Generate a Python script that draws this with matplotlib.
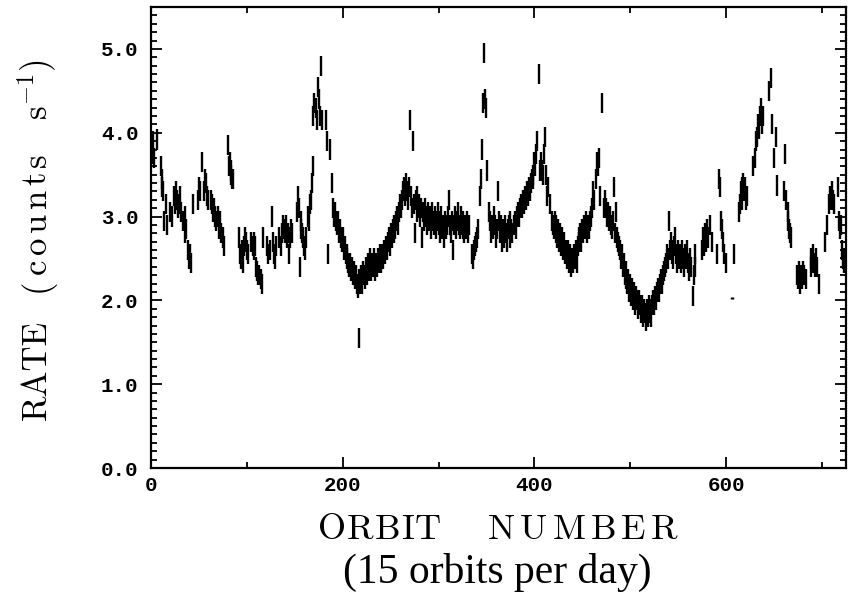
import numpy as np
import matplotlib
matplotlib.use('Agg')
from matplotlib import pyplot as plt
from matplotlib.ticker import MultipleLocator, FormatStrFormatter

# (orbit, rate), one list per stretch of data
seg_a = [(0, 3.85), (1, 3.75), (2, 3.9), (3, 3.7), (6, 3.92), (10, 3.6), (11, 3.45), (12, 3.35),
         (13, 3.3), (14, 2.95), (16, 3.15), (17, 2.9), (20, 3.05), (22, 3.0), (24, 3.25), (25, 3.15),
         (26, 3.3), (27, 3.2), (28, 3.1), (29, 3.15), (30, 3.25), (31, 3.05), (33, 2.95), (35, 3.0),
         (36, 2.8), (37, 2.85), (39, 2.6), (40, 2.5), (41, 2.55), (42, 2.45), (44, 3.15), (49, 3.2),
         (50, 3.35), (51, 3.3), (53, 3.65), (55, 3.3), (56, 3.45), (57, 3.4), (58, 3.25), (59, 3.2)]
seg_b = [(63, 3.2), (64, 3.15), (65, 3.05), (66, 3.1), (67, 3.0), (68, 2.95), (70, 3.0), (71, 2.85),
         (72, 2.95), (73, 2.8), (75, 2.75), (76, 2.65)]
seg_c = [(80, 3.85), (81, 3.6), (82, 3.65), (83, 3.55), (84, 3.5), (85, 3.45), (86, 3.45)]
seg_d = [(92, 2.75), (93, 2.55), (94, 2.5), (95, 2.6), (96, 2.45), (97, 2.65), (98, 2.75), (99, 2.7),
         (100, 2.6), (101, 2.55), (104, 2.7), (106, 2.65), (107, 2.7), (108, 2.6), (109, 2.65),
         (110, 2.4), (111, 2.35), (112, 2.3), (113, 2.3), (115, 2.25), (116, 2.2), (117, 2.75),
         (121, 2.65), (122, 2.55), (124, 2.6), (126, 3.0), (127, 2.7), (128, 2.55), (129, 2.5), (130, 2.65)]
seg_e = [(134, 2.75), (136, 2.65), (137, 2.8), (138, 2.9), (139, 2.85), (140, 2.8), (141, 2.9),
         (142, 2.75), (143, 2.8), (144, 2.55), (145, 2.75), (146, 2.85), (147, 2.8), (152, 3.05),
         (153, 3.25), (154, 3.1), (155, 2.4), (156, 2.95), (157, 2.85), (158, 2.8), (159, 2.75),
         (160, 2.65), (161, 2.6), (162, 2.75), (164, 3.0), (165, 2.95), (166, 3.15), (167, 3.2),
         (168, 3.4), (169, 3.6)]
seg_f = [(169.5, 4.2), (170.5, 4.35), (172, 4.3), (173, 4.15), (174, 4.55), (175, 4.4), (176, 4.2),
         (177, 4.8), (178, 4.15), (183, 4.15), (184, 3.9), (185, 2.55), (187, 3.8), (189, 3.4)]
seg_g = [(190, 3.1), (191, 3.0), (192, 3.05), (193, 2.95), (194, 2.9), (195, 2.95), (196, 2.8),
         (197, 2.85), (198, 2.75), (199, 2.7), (200, 2.75), (201, 2.6), (202, 2.65), (203, 2.55),
         (204, 2.5), (205, 2.55), (206, 2.45), (207, 2.4), (208, 2.45), (209, 2.35), (210, 2.4),
         (211, 2.3), (212, 2.35), (213, 2.25), (214, 2.3), (215, 2.2), (216, 2.15), (216.5, 1.55),
         (217, 2.25), (218, 2.2), (219, 2.3), (220, 2.2), (221, 2.35), (222, 2.3), (223, 2.25),
         (224, 2.4), (225, 2.3), (226, 2.45), (227, 2.35), (228, 2.4), (229, 2.5), (230, 2.35),
         (231, 2.45), (232, 2.4), (233, 2.5), (234, 2.35), (235, 2.45), (236, 2.4), (237, 2.5),
         (238, 2.45), (239, 2.55), (240, 2.45), (241, 2.55), (242, 2.5), (243, 2.6), (244, 2.55),
         (245, 2.65), (246, 2.6), (247, 2.7), (248, 2.75), (249, 2.65), (250, 2.8), (251, 2.75),
         (252, 2.85), (253, 2.8), (254, 2.9), (255, 2.85), (256, 2.95), (257, 3.0), (258, 2.9),
         (259, 3.05), (260, 3.15), (261, 3.1), (262, 3.2), (263, 3.3), (264, 3.35), (265, 3.25),
         (266, 3.4), (267, 3.3), (268, 3.2), (269, 3.35), (270, 4.15), (271, 3.25), (272, 3.1),
         (273, 3.9), (274, 3.15), (275, 2.8), (276, 3.2), (277, 3.05), (278, 3.25), (279, 3.1), (280, 3.15)]
seg_h = [(281, 3.0), (282, 3.1), (283, 2.75), (284, 3.05), (285, 2.95), (286, 3.1), (287, 3.0),
         (288, 2.9), (289, 3.05), (290, 2.95), (291, 3.0), (292, 2.85), (293, 3.05), (294, 2.95),
         (295, 2.9), (296, 3.0), (297, 2.85), (298, 2.95), (299, 3.05), (300, 2.9), (301, 2.8),
         (302, 2.95), (303, 3.0), (304, 2.85), (305, 2.9), (306, 2.75), (307, 2.95), (308, 2.85),
         (309, 2.9), (310, 3.0), (311, 3.2), (312, 2.9), (313, 2.8), (314, 2.95), (315, 2.6),
         (316, 2.9), (317, 3.0), (318, 2.85), (319, 2.95), (320, 3.05), (321, 2.9), (322, 2.85),
         (323, 3.0), (324, 2.9), (325, 2.85), (326, 2.95), (327, 2.8), (328, 2.9), (329, 2.85),
         (330, 2.95), (331, 2.8), (332, 2.9), (335, 2.55), (336, 2.5), (337, 2.6), (338, 2.65),
         (339, 2.7), (340, 2.75), (341, 2.85), (343, 3.25), (344, 3.45), (345, 3.8), (346, 4.35),
         (347, 4.95), (348, 4.4), (349, 4.3), (351, 3.55)]
seg_i = [(353, 3.05), (354, 2.95), (355, 2.8), (356, 2.9), (357, 2.85), (358, 3.0), (359, 2.9),
         (360, 2.75), (361, 2.85), (362, 3.3), (363, 2.95), (364, 2.8), (365, 2.9), (366, 2.7),
         (367, 2.85), (368, 2.75), (369, 2.9), (370, 2.8), (371, 2.7), (372, 2.85), (373, 2.9),
         (374, 2.75), (375, 2.95), (376, 2.85), (377, 2.8), (379, 2.9), (380, 2.95), (381, 2.85),
         (382, 3.0), (383, 3.05), (384, 3.0), (385, 3.1), (386, 3.15), (387, 3.1), (388, 3.2),
         (389, 3.15), (390, 3.25), (391, 3.2), (392, 3.3), (393, 3.25), (394, 3.35), (395, 3.3),
         (396, 3.4), (397, 3.45), (398, 3.5), (399, 3.45), (400, 3.65), (401, 3.6), (402, 3.75),
         (403, 3.9), (405, 4.7), (406, 3.55), (407, 3.65), (408, 3.55), (409, 3.5), (410, 3.75),
         (411, 3.95), (412, 3.5), (413, 3.25), (414, 3.35), (416, 3.15), (418, 2.95)]
seg_j = [(419, 2.9), (420, 2.85), (421, 2.95), (422, 2.8), (423, 2.9), (424, 2.75), (425, 2.85),
         (426, 2.7), (427, 2.8), (428, 2.65), (429, 2.75), (430, 2.6), (431, 2.7), (432, 2.55),
         (433, 2.6), (434, 2.5), (435, 2.6), (436, 2.45), (437, 2.55), (438, 2.4), (439, 2.5),
         (440, 2.45), (441, 2.55), (442, 2.5), (443, 2.6), (444, 2.45), (445, 2.65), (446, 2.7),
         (447, 2.75), (448, 2.8), (449, 2.7), (450, 2.85), (451, 2.8), (452, 2.9), (453, 2.85),
         (454, 2.95), (455, 2.8), (456, 2.9), (457, 2.85), (458, 2.95), (459, 3.0), (460, 3.1),
         (461, 3.3), (462, 3.2), (464, 3.45), (465, 3.65), (466, 3.6), (467, 3.7), (468, 3.25), (470, 4.35)]
seg_k = [(473, 3.1), (474, 3.2), (475, 3.1), (476, 3.0), (477, 3.05), (478, 2.95), (479, 3.0),
         (480, 2.9), (481, 2.85), (482, 2.95), (483, 3.35), (484, 2.8), (485, 3.05), (486, 2.75),
         (487, 2.7), (488, 2.65), (489, 2.6), (490, 2.5), (491, 2.55), (492, 2.4), (493, 2.45),
         (494, 2.3), (495, 2.35), (496, 2.25), (497, 2.2), (498, 2.25), (499, 2.1), (500, 2.2),
         (501, 2.05), (502, 2.15), (503, 2.0), (504, 2.1), (505, 1.95), (506, 2.05), (507, 2.0),
         (508, 1.9), (509, 2.0), (510, 1.95), (511, 1.85), (512, 1.95), (513, 1.8), (514, 1.9),
         (515, 1.85), (516, 1.75), (517, 1.9), (518, 1.8), (519, 1.95), (520, 1.85), (521, 1.9),
         (522, 1.8), (523, 1.95), (524, 2.0), (525, 1.95), (526, 2.05), (527, 2.0), (528, 2.1),
         (529, 2.15), (530, 2.1), (531, 2.2), (532, 2.25), (533, 2.2), (534, 2.3), (535, 2.35),
         (536, 2.4), (537, 2.45), (538, 2.55), (539, 2.5), (540, 2.95), (541, 2.6), (542, 2.7),
         (543, 2.55), (544, 2.6), (545, 2.5), (546, 2.65), (547, 2.75), (548, 2.55), (549, 2.45),
         (550, 2.6), (551, 2.5), (552, 2.55), (553, 2.45), (554, 2.6), (555, 2.5), (556, 2.4),
         (557, 2.55), (558, 2.5), (559, 2.6), (560, 2.45), (561, 2.35), (562, 2.5), (563, 2.4),
         (565, 2.05), (566, 2.3), (567, 2.55), (568, 2.4)]
seg_l = [(575, 2.6), (576, 2.75), (577, 2.65), (578, 2.8), (579, 2.7), (580, 2.85), (581, 2.75),
         (583, 2.9), (585, 2.7), (590, 2.55), (593, 3.45), (594, 3.35), (595, 2.95), (596, 2.85),
         (597, 2.7), (598, 2.55), (600, 2.45)]
seg_m = [(608, 2.55), (613, 3.05), (614, 3.15), (615, 3.3), (616, 3.2), (617, 3.35), (618, 3.4),
         (619, 3.3), (620, 3.35), (621, 3.2), (622, 3.25), (628, 3.6), (630, 3.7), (631, 3.9),
         (632, 3.95), (633, 4.1), (634, 4.05), (635, 4.2), (636, 4.3), (637, 4.1), (638, 4.2),
         (645, 4.5), (647, 4.65), (648, 4.1), (650, 3.7), (652, 3.95), (653, 3.37), (660, 3.3),
         (661, 3.75), (662, 3.2), (664, 3.05), (665, 2.95), (666, 2.85), (667, 2.8), (668, 2.75),
         (674, 2.3), (675, 2.25), (676, 2.35), (677, 2.2), (678, 2.3), (679, 2.25), (680, 2.35),
         (681, 2.3), (683, 2.25), (688, 2.4), (689, 2.5), (690, 2.45), (691, 2.55), (692, 2.45),
         (693, 2.4), (694, 2.5), (695, 2.4), (697, 2.2), (703, 2.7), (705, 2.9), (707, 3.15),
         (708, 3.25), (709, 3.2), (710, 3.3), (711, 3.2), (712, 3.15), (717, 3.35), (718, 2.95),
         (719, 2.85), (720, 2.9), (721, 2.6), (722, 2.5), (723, 2.45), (724, 2.5)]
# the one point near orbit 606 with a very short bar
odd_point = (606, 2.03)

rate_err = 0.12
odd_err = 0.015

pts = np.array(seg_a + seg_b + seg_c + seg_d + seg_e + seg_f + seg_g + seg_h +
               seg_i + seg_j + seg_k + seg_l + seg_m)
orbit = pts[:, 0]
rate = pts[:, 1]

plt.rcParams['mathtext.fontset'] = 'cm'

W, H = 850, 594
fig = plt.figure(figsize=(8.5, 5.94), dpi=100)
ax = fig.add_axes([0.1776, 0.2121, 0.8177, 0.7761])

ax.errorbar(orbit, rate, yerr=rate_err, fmt='none', ecolor='black', elinewidth=1.7, capsize=0)
ax.errorbar([odd_point[0]], [odd_point[1]], yerr=odd_err, fmt='none', ecolor='black',
            elinewidth=2.5, capsize=0)

ax.set_xlim(0, 725)
ax.set_ylim(0, 5.5)
ax.xaxis.set_major_locator(MultipleLocator(200))
ax.xaxis.set_minor_locator(MultipleLocator(100))
ax.yaxis.set_major_locator(MultipleLocator(1.0))
ax.yaxis.set_minor_locator(MultipleLocator(0.1))
ax.yaxis.set_major_formatter(FormatStrFormatter('%.1f'))

ax.tick_params(which='both', direction='in', top=True, right=True, width=1.3)
ax.tick_params(which='major', length=8)
ax.tick_params(which='minor', length=4)
ax.tick_params(axis='y', pad=9)
ax.tick_params(axis='x', pad=6)
for lab in ax.get_xticklabels() + ax.get_yticklabels():
    lab.set_family('Liberation Mono')
    lab.set_fontsize(15)
    lab.set_fontweight('bold')
for s in ax.spines.values():
    s.set_linewidth(1.6)

renderer = fig.canvas.get_renderer()


def spaced(s, x_px, y_px, gap, size, vertical=False):
    # draw a word letter by letter with extra tracking (pixel positions, y from top)
    pos = x_px if not vertical else H - y_px
    for ch in s:
        if vertical:
            t = fig.text(x_px / W, pos / H, ch, family='cmr10', fontsize=size,
                         rotation=90, ha='center', va='bottom')
            pos += t.get_window_extent(renderer).height + gap
        else:
            t = fig.text(pos / W, 1 - y_px / H, ch, family='cmr10', fontsize=size,
                         ha='left', va='baseline')
            pos += t.get_window_extent(renderer).width + gap


# axis titles
spaced('ORBIT', 318, 539, 1.0, 26)
spaced('NUMBER', 488, 539, 5.0, 26)
fig.text(0.585, 0.037, '(15 orbits per day)', family='Liberation Serif', fontsize=30,
         ha='center', va='center')
fig.text(0.0435, 0.377, 'RATE', family='cmr10', fontsize=25, rotation=90, ha='center', va='center')
spaced('(counts', 37, 292, 4.5, 25, vertical=True)
fig.text(37 / W, 1 - 120 / H, 's$^{-1}$)', family='cmr10', fontsize=25, rotation=90,
         ha='center', va='bottom')

fig.savefig('out.png', dpi=100)
